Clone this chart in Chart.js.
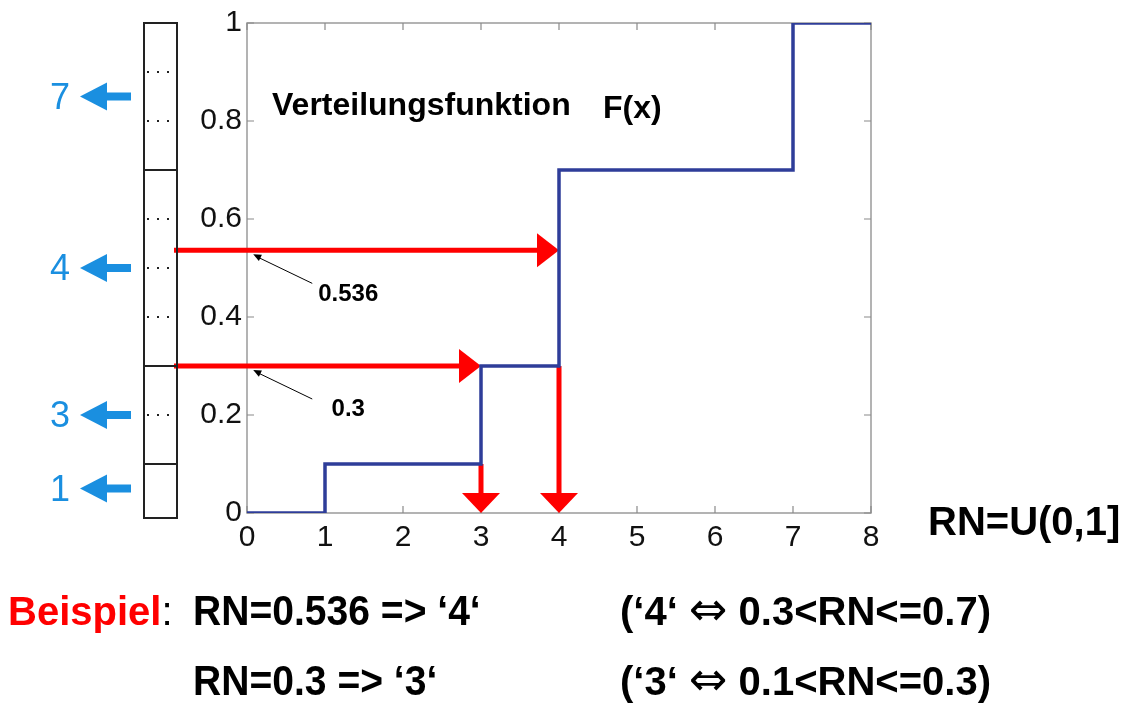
<!DOCTYPE html>
<html><head><meta charset="utf-8">
<script src="https://cdn.jsdelivr.net/npm/chart.js@4/dist/chart.umd.min.js"></script>
<style>
html,body{margin:0;padding:0;background:#fff;}
#wrap{position:relative;width:1131px;height:706px;overflow:hidden;font-family:"Liberation Sans",Arial,sans-serif;}
#c{position:absolute;left:0;top:0;}
.t{position:absolute;white-space:nowrap;line-height:1;font-weight:bold;color:#000;}
.b{position:absolute;white-space:nowrap;line-height:1;font-size:36px;color:#1a8fe0;left:50px;}
.a{position:absolute;white-space:nowrap;line-height:1;font-size:24px;font-weight:bold;color:#000;width:80px;text-align:center;}
.eq{font-family:"DejaVu Sans",sans-serif;font-weight:normal;font-size:46px;line-height:0;}
.n{transform:scaleX(0.93);transform-origin:0 0;}
</style></head><body>
<div id="wrap">
<canvas id="c" width="1131" height="706"></canvas>
<div class="t" style="left:272px;top:88px;font-size:32px">Verteilungsfunktion</div>
<div class="t" style="left:603px;top:91px;font-size:32px">F(x)</div>
<div class="t" style="left:928px;top:501px;font-size:40px">RN=U(0,1]</div>
<div class="t" style="left:8px;top:591px;font-size:40px"><span style="color:#ff0000">Beispiel</span><span style="font-weight:normal">:</span></div>
<div class="t n" style="left:193px;top:590px;font-size:42px">RN=0.536 =&gt; ‘4‘</div>
<div class="t" style="left:620px;top:591px;font-size:40px">(‘4‘ <span class="eq">⇔</span> 0.3&lt;RN&lt;=0.7)</div>
<div class="t n" style="left:193px;top:660px;font-size:42px">RN=0.3 =&gt; ‘3‘</div>
<div class="t" style="left:620px;top:661px;font-size:40px">(‘3‘ <span class="eq">⇔</span> 0.1&lt;RN&lt;=0.3)</div>
</div>
<script>
// ---- data ----
const xValues = [0, 1, 3, 4, 7, 8];          // step positions of F(x)
const fValues = [0, 0.1, 0.3, 0.7, 1, 1];    // F(x) values
const outcomes = [1, 3, 4, 7];               // discrete values of X
const cumProb = [0.1, 0.3, 0.7, 1.0];        // cumulative probability
const xTicks = [0, 1, 2, 3, 4, 5, 6, 7, 8];
const yTicks = [0, 0.2, 0.4, 0.6, 0.8, 1];
const exampleRN = [0.536, 0.3];
const exampleOut = [4, 3];
const exampleLabels = ['0.536', '0.3'];

function arrowHead(ctx, tipX, tipY, dx, dy, len, half) {
  const bx = tipX - dx * len, by = tipY - dy * len;
  const px = -dy, py = dx;
  ctx.beginPath();
  ctx.moveTo(tipX, tipY);
  ctx.lineTo(bx + px * half, by + py * half);
  ctx.lineTo(bx - px * half, by - py * half);
  ctx.closePath();
  ctx.fill();
}

const decor = {
  id: 'decor',
  beforeDatasetsDraw(chart) {
    const { ctx, chartArea: a, scales: { x, y } } = chart;
    ctx.save();
    ctx.strokeStyle = '#9a9a9a'; ctx.lineWidth = 1.5;
    ctx.strokeRect(a.left, a.top, a.right - a.left, a.bottom - a.top);
    ctx.strokeStyle = '#8a8a8a'; ctx.lineWidth = 1.2;
    ctx.beginPath();
    xTicks.forEach(v => { const px = x.getPixelForValue(v);
      ctx.moveTo(px, a.bottom); ctx.lineTo(px, a.bottom - 7);
      ctx.moveTo(px, a.top); ctx.lineTo(px, a.top + 7); });
    yTicks.forEach(v => { const py = y.getPixelForValue(v);
      ctx.moveTo(a.left, py); ctx.lineTo(a.left + 7, py);
      ctx.moveTo(a.right, py); ctx.lineTo(a.right - 7, py); });
    ctx.stroke();
    // red arrows
    ctx.strokeStyle = '#ff0000'; ctx.fillStyle = '#ff0000'; ctx.lineWidth = 5;
    const y0 = y.getPixelForValue(0);
    exampleRN.forEach((r, i) => {
      const k = exampleOut[i];
      const idx = outcomes.indexOf(k);
      const lower = idx > 0 ? cumProb[idx - 1] : 0;
      const py = y.getPixelForValue(r), tx = x.getPixelForValue(k);
      ctx.beginPath(); ctx.moveTo(174, py); ctx.lineTo(tx - 20, py); ctx.stroke();
      arrowHead(ctx, tx, py, 1, 0, 22, 17);
      ctx.beginPath(); ctx.moveTo(tx, y.getPixelForValue(lower)); ctx.lineTo(tx, y0 - 18); ctx.stroke();
      arrowHead(ctx, tx, y0, 0, 1, 20, 19);
    });
    ctx.restore();
  },
  afterDraw(chart) {
    const { ctx, scales: { x, y } } = chart;
    ctx.save();
    // probability bar on the left
    const L = 144, R = 177;
    const top = y.getPixelForValue(1), bot = y.getPixelForValue(0) + 5;
    ctx.strokeStyle = '#222'; ctx.lineWidth = 2;
    ctx.strokeRect(L, top, R - L, bot - top);
    ctx.beginPath();
    cumProb.forEach(c => { if (c < 1) { const py = y.getPixelForValue(c); ctx.moveTo(L, py); ctx.lineTo(R, py); } });
    ctx.stroke();
    ctx.fillStyle = '#222';
    for (let i = 1; i < 10; i++) {
      const v = i / 10;
      if (cumProb.some(c => Math.abs(c - v) < 1e-9)) continue;
      const py = y.getPixelForValue(v);
      [148, 158, 168].forEach(dx => ctx.fillRect(dx - 1, py - 1, 2, 2));
    }
    // blue arrows
    ctx.fillStyle = '#1a8fe0';
    outcomes.forEach((k, i) => {
      const mid = ((i > 0 ? cumProb[i - 1] : 0) + cumProb[i]) / 2;
      const py = y.getPixelForValue(mid);
      arrowHead(ctx, 80, py, -1, 0, 27, 14);
      ctx.fillRect(105, py - 4, 26, 8);
    });
    // pointer annotations
    ctx.strokeStyle = '#000'; ctx.fillStyle = '#000'; ctx.lineWidth = 1;
    exampleRN.forEach(r => {
      const tx = x.getPixelForValue(0.08), ty = y.getPixelForValue(r) + 4;
      ctx.beginPath(); ctx.moveTo(tx + 59, ty + 29); ctx.lineTo(tx + 5, ty + 3); ctx.stroke();
      const len = Math.hypot(59, 29);
      arrowHead(ctx, tx, ty, -59 / len, -29 / len, 8, 3.5);
    });
    ctx.restore();
  }
};

const fmt = v => String(Number(Number(v).toFixed(2)));

const chart = new Chart(document.getElementById('c'), {
  type: 'line',
  data: { datasets: [{
    data: xValues.map((v, i) => ({ x: v, y: fValues[i] })),
    borderColor: '#2e3d99', borderWidth: 3.5, stepped: true,
    pointRadius: 0, fill: false
  }] },
  options: {
    responsive: false, animation: false, devicePixelRatio: 1,
    layout: { padding: { left: 0, top: 23, right: 260, bottom: 0 } },
    plugins: { legend: { display: false }, tooltip: { enabled: false } },
    scales: {
      x: { type: 'linear', min: 0, max: 8,
        afterBuildTicks: s => { s.ticks = xTicks.map(v => ({ value: v })); },
        afterFit: s => { s.height = 193; },
        grid: { display: false, drawTicks: false }, border: { display: false },
        ticks: { font: { size: 30, family: 'Liberation Sans' }, color: '#111', padding: 7, maxRotation: 0, autoSkip: false, callback: fmt } },
      y: { type: 'linear', min: 0, max: 1,
        afterBuildTicks: s => { s.ticks = yTicks.map(v => ({ value: v })); },
        afterFit: s => { s.width = 247; },
        grid: { display: false, drawTicks: false }, border: { display: false },
        ticks: { font: { size: 30, family: 'Liberation Sans' }, color: '#111', padding: 5, callback: fmt } }
    }
  },
  plugins: [decor]
});

// position data-linked text labels
const wrap = document.getElementById('wrap');
const ys = chart.scales.y, xs = chart.scales.x;
outcomes.forEach((k, i) => {
  const mid = ((i > 0 ? cumProb[i - 1] : 0) + cumProb[i]) / 2;
  const d = document.createElement('div');
  d.className = 'b'; d.textContent = String(k);
  d.style.top = (ys.getPixelForValue(mid) - 17.6) + 'px';
  wrap.appendChild(d);
});
exampleRN.forEach((r, i) => {
  const tx = xs.getPixelForValue(0.08), ty = ys.getPixelForValue(r) + 4;
  const d = document.createElement('div');
  d.className = 'a'; d.textContent = exampleLabels[i];
  d.style.left = (tx + 95 - 40) + 'px';
  d.style.top = (ty + 38 - 11.7) + 'px';
  wrap.appendChild(d);
});
</script>
</body></html>
